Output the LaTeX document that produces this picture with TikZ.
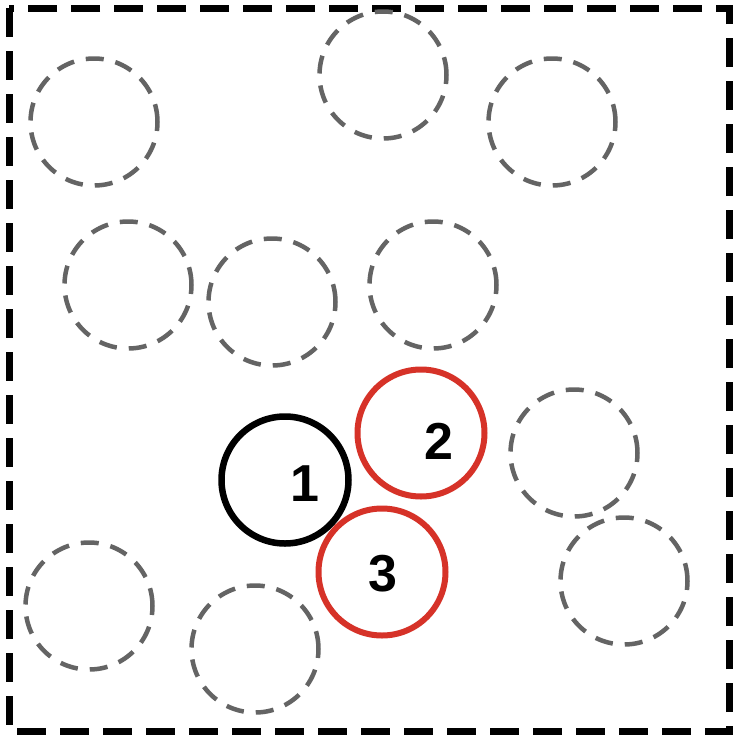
\documentclass[tikz,border=0pt]{standalone}
\usepackage{fontspec}
\setmainfont{Liberation Sans}
\definecolor{hlred}{RGB}{214,50,40}
\definecolor{ghostgray}{RGB}{100,100,100}
\begin{document}
\begin{tikzpicture}[x=1pt,y=-1pt,
  ghost/.style={circle,draw=ghostgray,line width=4.5pt,dash pattern=on 18pt off 12pt,minimum size=127pt,inner sep=0pt},
  redc/.style={circle,draw=hlred,line width=6pt,minimum size=127pt,inner sep=0pt},
  blackc/.style={circle,draw=black,line width=6.5pt,minimum size=127pt,inner sep=0pt},
  num/.style={font=\fontsize{52}{52}\selectfont\bfseries,inner sep=0pt}]
\useasboundingbox (0,0) rectangle (732,737);
\fill[white] (0,0) rectangle (732,737);
\coordinate (tl) at (9,8);
\coordinate (br) at (729,731);
\draw[line width=7pt,dash pattern=on 29pt off 14pt] (tl) rectangle (br);
% dashed circles
\node[ghost] (g1) at (94,122) {};
\node[ghost] (g2) at (383,75) {};
\node[ghost] (g3) at (552,122) {};
\node[ghost] (g4) at (128,285) {};
\node[ghost] (g5) at (272,302) {};
\node[ghost] (g6) at (433,285) {};
\node[ghost] (g7) at (574,453) {};
\node[ghost] (g8) at (624,581) {};
\node[ghost] (g9) at (89,606) {};
\node[ghost] (g10) at (255,649) {};
% highlighted circles
\node[blackc] (c1) at (285,480) {};
\node[redc] (c2) at (421,433) {};
\node[redc] (c3) at (382,572) {};
\node[num] (n1) at (305,484) {1};
\node[num] (n2) at (439,441) {2};
\node[num] (n3) at (383,574) {3};
\end{tikzpicture}
\end{document}
